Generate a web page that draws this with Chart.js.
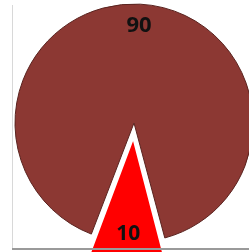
<!DOCTYPE html>
<html>
<head>
<meta charset="utf-8">
<script src="https://cdn.jsdelivr.net/npm/chart.js@4"></script>
<style>
  html, body { margin: 0; padding: 0; background: #fff; }
  #wrap { position: relative; width: 249px; height: 252px; }
</style>
</head>
<body>
<div id="wrap"><canvas id="chart"></canvas></div>
<script>
// chart data
const sliceLabels = ['Large share', 'Small share'];
const sliceValues = [90, 10];
const sliceColors = ['#8c3833', '#ff0000'];
const sliceBorders = ['#5a2420', '#ffffff'];
const sliceBorderWidths = [1, 2.5];
// chart.js moves an arc by offset / 4 px
const sliceOffsets = [0, 56];

// value text on each slice
const sliceText = {
  id: 'sliceText',
  afterDatasetsDraw(chart) {
    const ctx = chart.ctx;
    const arcs = chart.getDatasetMeta(0).data;
    ctx.save();
    ctx.fillStyle = '#111';
    ctx.textAlign = 'center';
    ctx.textBaseline = 'middle';
    arcs.forEach((arc, i) => {
      const mid = (arc.startAngle + arc.endAngle) / 2;
      const r = arc.outerRadius * 0.82 + sliceOffsets[i] / 4;
      ctx.font = 'bold ' + (i === 0 ? 22 : 21) + 'px "Open Sans", sans-serif';
      ctx.fillText(String(sliceValues[i]), arc.x + Math.cos(mid) * r, arc.y + Math.sin(mid) * r);
    });
    // bottom frame line
    ctx.strokeStyle = '#9a9a9a';
    ctx.lineWidth = 2;
    ctx.beginPath();
    ctx.moveTo(12, 249);
    ctx.lineTo(249, 249);
    ctx.stroke();
    ctx.restore();
  }
};

// left frame line
const frameLine = {
  id: 'frameLine',
  beforeDatasetsDraw(chart) {
    const ctx = chart.ctx;
    ctx.save();
    ctx.strokeStyle = '#d8d8d8';
    ctx.lineWidth = 1;
    ctx.beginPath();
    ctx.moveTo(12.5, 5);
    ctx.lineTo(12.5, 248);
    ctx.stroke();
    ctx.restore();
  }
};

new Chart(document.getElementById('chart'), {
  type: 'pie',
  data: {
    labels: sliceLabels,
    datasets: [{
      data: sliceValues,
      backgroundColor: sliceColors,
      borderColor: sliceBorders,
      borderWidth: sliceBorderWidths,
      borderJoinStyle: 'miter',
      offset: sliceOffsets,
      clip: false
    }]
  },
  options: {
    responsive: true,
    maintainAspectRatio: false,
    animation: false,
    rotation: -159,
    radius: 119,
    layout: { padding: { left: 19, right: 0, top: 0, bottom: 6 } },
    plugins: {
      legend: { display: false },
      tooltip: { enabled: false }
    }
  },
  plugins: [frameLine, sliceText]
});
</script>
</body>
</html>
